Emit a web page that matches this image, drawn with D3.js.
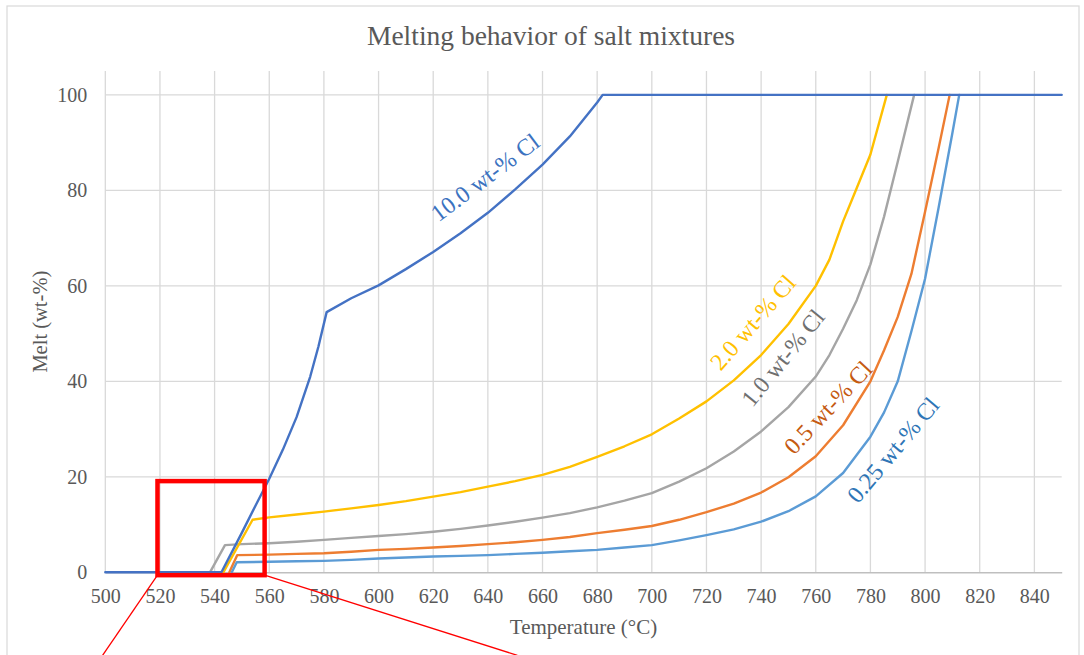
<!DOCTYPE html>
<html><head><meta charset="utf-8">
<script src="https://cdn.jsdelivr.net/npm/d3@7/dist/d3.min.js"></script>
<style>
body{margin:0;background:#fff}
svg{display:block}
text{font-family:"Liberation Serif","Times New Roman",serif}
</style>
</head><body>
<svg id="chart" width="1084" height="655"></svg>
<script>
// ---- data ----
const chartTitle = "Melting behavior of salt mixtures";
const xTitle = "Temperature (°C)";
const yTitle = "Melt (wt-%)";
const xTicks = [500,520,540,560,580,600,620,640,660,680,700,720,740,760,780,800,820,840];
const yTicks = [0,20,40,60,80,100];

const cl10 = [[500,0],[542.5,0],[550,8.3],[555,14],[560,19.6],[565,25.7],[570,32.5],[575,41],[578,47.3],[581,54.5],[590,57.4],[600,60.1],[610,63.5],[620,67.1],[630,71],[640,75.3],[650,80.2],[660,85.4],[670,91.3],[680,98.4],[682,100],[850,100]];
const cl05 = [[545.4,0],[548.3,3.6],[560,3.7],[570,3.85],[580,4.0],[590,4.3],[600,4.7],[610,4.9],[620,5.2],[630,5.5],[640,5.9],[650,6.3],[660,6.8],[670,7.4],[680,8.2],[690,8.9],[700,9.7],[710,11.0],[720,12.6],[730,14.4],[740,16.7],[750,19.9],[760,24.3],[770,30.8],[780,40],[785,46.5],[790,53.5],[795,62.5],[800,75.5],[805,89],[809,100]];
const cl10gray = [[538.3,0],[543.8,5.7],[550,5.9],[560,6.1],[570,6.4],[580,6.8],[590,7.2],[600,7.6],[610,8.0],[620,8.5],[630,9.1],[640,9.8],[650,10.6],[660,11.45],[670,12.4],[680,13.6],[690,15.0],[700,16.6],[710,19.0],[720,21.8],[730,25.3],[740,29.5],[750,34.6],[760,41],[765,45.5],[770,51],[775,57],[780,64.5],[785,74.5],[790,86],[796,100]];
const cl20 = [[543.2,0],[553.9,11],[560,11.5],[570,12.1],[580,12.7],[590,13.4],[600,14.1],[610,14.9],[620,15.85],[630,16.8],[640,17.95],[650,19.1],[660,20.4],[670,22.1],[680,24.2],[690,26.4],[700,28.9],[710,32.2],[720,35.8],[730,40.2],[740,45.5],[750,52],[760,60],[765,65.5],[770,73.5],[775,80.5],[780,87.5],[786,100]];
const cl025 = [[546.3,0],[548.1,2.1],[560,2.2],[570,2.3],[580,2.4],[590,2.6],[600,2.9],[610,3.1],[620,3.3],[630,3.45],[640,3.6],[650,3.85],[660,4.1],[670,4.4],[680,4.7],[690,5.2],[700,5.7],[710,6.7],[720,7.8],[730,9.0],[740,10.6],[750,12.8],[760,15.9],[770,20.8],[780,28.4],[785,33.5],[790,40],[795,50.5],[800,61.5],[805,76.5],[810,92],[812.5,100]];

const seriesNames = ["0.5 wt-% Cl","1.0 wt-% Cl","2.0 wt-% Cl","0.25 wt-% Cl","10.0 wt-% Cl"];
const seriesData = [cl05, cl10gray, cl20, cl025, cl10];
const seriesColors = ["#ED7D31","#A5A5A5","#FFC000","#5B9BD5","#4472C4"];
const labelColors = ["#C55A11","#6F6F6F","#FFC000","#2E75B6","#3B72C0"];

// zoom annotation (data units)
const zoomBox = [519.1, 558.3, -0.6, 19.1];
const leaderLeft = [[519.1,-0.6],[499,-17.4]];
const leaderRight = [[558.3,-0.6],[650.8,-17.4]];

// ---- layout ----
const svg = d3.select("#chart");
const W = 1084, H = 655;
const m = {left:105.3, right:1061.7, top:71, bottom:572.3};
const x = d3.scaleLinear().domain([500,850]).range([m.left, m.right]);
const y = d3.scaleLinear().domain([0,105]).range([m.bottom, m.top]);

svg.append("rect").attr("x",0).attr("y",0).attr("width",W).attr("height",H).attr("fill","#fff");
svg.append("rect").attr("x",7).attr("y",6).attr("width",1072).attr("height",700)
  .attr("fill","none").attr("stroke","#d9d9d9").attr("stroke-width",1.2);

// title
svg.append("text").attr("x",551).attr("y",45).attr("text-anchor","middle")
  .attr("font-size",27.5).attr("fill","#595959").text(chartTitle);

// gridlines
const grid = svg.append("g");
grid.selectAll(".vg").data(xTicks).enter().append("line")
  .attr("x1",d=>x(d)).attr("x2",d=>x(d)).attr("y1",m.top).attr("y2",m.bottom)
  .attr("stroke","#d9d9d9").attr("stroke-width",1.3);
grid.selectAll(".hg").data(yTicks.filter(d=>d>0)).enter().append("line")
  .attr("x1",m.left).attr("x2",m.right).attr("y1",d=>y(d)).attr("y2",d=>y(d))
  .attr("stroke","#d9d9d9").attr("stroke-width",1.3);

// x axis
const xAxis = d3.axisBottom(x).tickValues(xTicks).tickSize(0).tickPadding(17).tickFormat(d3.format("d"));
const gx = svg.append("g").attr("transform",`translate(0,${m.bottom})`).call(xAxis);
gx.select(".domain").attr("stroke","#bfbfbf").attr("stroke-width",1.5);
gx.selectAll("text").attr("font-size",20).attr("fill","#595959").attr("font-family","Liberation Serif");

// y axis
const yAxis = d3.axisLeft(y).tickValues(yTicks).tickSize(0).tickPadding(18).tickFormat(d3.format("d"));
const gy = svg.append("g").attr("transform",`translate(${m.left},0)`).call(yAxis);
gy.select(".domain").remove();
gy.selectAll("text").attr("font-size",20).attr("fill","#595959").attr("font-family","Liberation Serif");

// axis titles
svg.append("text").attr("x",(m.left+m.right)/2).attr("y",634).attr("text-anchor","middle")
  .attr("font-size",21).attr("fill","#595959").text(xTitle);
svg.append("text").attr("transform",`translate(47,${(m.top+m.bottom)/2}) rotate(-90)`)
  .attr("text-anchor","middle").attr("font-size",20.5).attr("fill","#595959").text(yTitle);

// lines
const line = d3.line().x(d=>x(d[0])).y(d=>y(d[1]));
svg.append("g").selectAll("path").data(seriesData).enter().append("path")
  .attr("d",line).attr("fill","none")
  .attr("stroke",(d,i)=>seriesColors[i]).attr("stroke-width",2.4)
  .attr("stroke-linejoin","round").attr("stroke-linecap","round");

// curve labels (anchor in data units, rotation in degrees)
const labelAnchors = [[764.5,34.5],[748.0,44.9],[737.0,52.3],[788.3,25.6],[639.0,82.7]];
const labelAngles = [-47,-51,-49,-50,-37];
svg.append("g").selectAll("text").data(seriesNames).enter().append("text")
  .attr("transform",(d,i)=>`translate(${x(labelAnchors[i][0])},${y(labelAnchors[i][1])}) rotate(${labelAngles[i]})`)
  .attr("text-anchor","middle").attr("dominant-baseline","central")
  .attr("font-size",24).attr("fill",(d,i)=>labelColors[i]).text(d=>d);

// zoom annotation
svg.append("rect").attr("x",x(zoomBox[0])).attr("y",y(zoomBox[3]))
  .attr("width",x(zoomBox[1])-x(zoomBox[0])).attr("height",y(zoomBox[2])-y(zoomBox[3]))
  .attr("fill","none").attr("stroke","#FF0000").attr("stroke-width",4.5);
[leaderLeft, leaderRight].forEach(p=>{
  svg.append("line").attr("x1",x(p[0][0])).attr("y1",y(p[0][1])).attr("x2",x(p[1][0])).attr("y2",y(p[1][1]))
    .attr("stroke","#FF0000").attr("stroke-width",1.3);
});
</script>
</body></html>
